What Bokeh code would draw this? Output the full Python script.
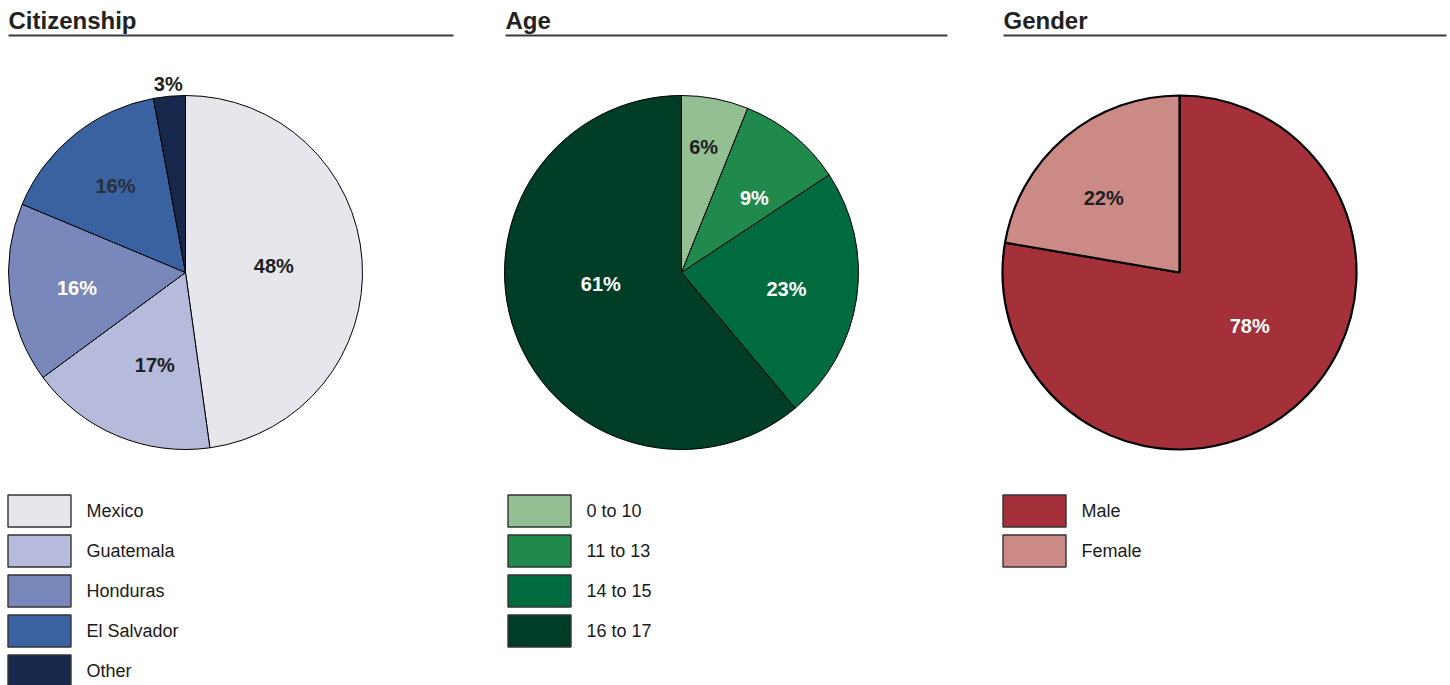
import numpy as np
from bokeh.plotting import figure
from bokeh.models import Range1d, ColumnDataSource
from bokeh.core.properties import value
from bokeh.embed import file_html
from bokeh.resources import INLINE

# ---------------- data ----------------
cit_categories = ["Mexico", "Guatemala", "Honduras", "El Salvador", "Other"]
cit_values = [47.8, 17.1, 16.4, 15.8, 2.9]
cit_labels = ["48%", "17%", "16%", "16%", "3%"]

age_categories = ["0 to 10", "11 to 13", "14 to 15", "16 to 17"]
age_values = [6.1, 9.6, 23.2, 61.1]
age_labels = ["6%", "9%", "23%", "61%"]

gen_categories = ["Male", "Female"]
gen_values = [77.7, 22.3]
gen_labels = ["78%", "22%"]

titles = ["Citizenship", "Age", "Gender"]

# ---------------- styles ----------------
cit_colors = ["#E6E7EC", "#B6BADB", "#7888BA", "#3A62A0", "#18284C"]
cit_text_colors = ["#1e1e1e", "#1e1e1e", "#ffffff", "#2a2f3a", "#1e1e1e"]
cit_label_r = [0.50, 0.55, 0.62, 0.63, 1.07]
cit_label_shift = [0, -4.5, -1.5, 0, 0]

age_colors = ["#93BF93", "#1F8A4C", "#006B3F", "#003D26"]
age_text_colors = ["#1e1e1e", "#ffffff", "#ffffff", "#ffffff"]
age_label_r = [0.72, 0.59, 0.60, 0.46]
age_label_shift = [-1, 5, 0.7, 12]

gen_colors = ["#A4303A", "#CC8A86"]
gen_text_colors = ["#ffffff", "#1e1e1e"]
gen_label_r = [0.50, 0.60]
gen_label_shift = [-12.4, -5.4]

FONT = "Liberation Sans"
W, H = 1450, 685
R = 177

p = figure(width=W, height=H, x_range=Range1d(0, W), y_range=Range1d(0, H),
           output_backend="svg", toolbar_location=None, min_border=0,
           x_axis_type=None, y_axis_type=None)
p.grid.visible = False
p.outline_line_color = None
p.background_fill_color = "white"
p.border_fill_color = "white"

panel_x0 = [8, 505, 1003]
panel_x1 = [453, 947, 1446]
pie_cx = [185, 681, 1179]
leg_cx = [39, 539, 1034]
leg_tx = [86, 586, 1081]
pie_cy = 413

panels = [
    (cit_categories, cit_values, cit_labels, cit_colors, cit_text_colors, cit_label_r, cit_label_shift, 1),
    (age_categories, age_values, age_labels, age_colors, age_text_colors, age_label_r, age_label_shift, 1),
    (gen_categories, gen_values, gen_labels, gen_colors, gen_text_colors, gen_label_r, gen_label_shift, 2.2),
]

for i, (cats, vals, labs, cols, tcols, lr, lsh, lw) in enumerate(panels):
    x0 = panel_x0[i]
    # title + rule
    p.text(x=[x0], y=[665], text=[titles[i]], text_font=value(FONT),
           text_font_size="24px", text_font_style="bold", text_color="#222222",
           text_align="left", text_baseline="alphabetic")
    p.segment(x0=[x0], y0=[650], x1=[panel_x1[i]], y1=[650],
              line_color="#3a3a3a", line_width=1.8)

    # pie
    cx = pie_cx[i]
    v = np.array(vals, dtype=float)
    frac = v / v.sum()
    cum = np.concatenate([[0], np.cumsum(frac)])
    start = np.pi / 2 - cum[:-1] * 2 * np.pi
    end = np.pi / 2 - cum[1:] * 2 * np.pi
    src = ColumnDataSource(dict(start=start, end=end, color=cols))
    p.wedge(x=cx, y=pie_cy, radius=R, radius_units="screen",
            start_angle="start", end_angle="end", direction="clock",
            fill_color="color", line_color="black", line_width=lw, source=src)

    # labels
    mid = (cum[:-1] + cum[1:]) / 2 * 2 * np.pi + np.radians(lsh)
    lx = cx + np.array(lr) * R * np.sin(mid)
    ly = pie_cy + np.array(lr) * R * np.cos(mid)
    p.text(x=lx, y=ly, text=labs, text_color=tcols, text_font=value(FONT),
           text_font_size="20px", text_font_style="bold",
           text_align="center", text_baseline="middle")

    # legend
    n = len(cats)
    ly_leg = 174.5 - 40 * np.arange(n)
    p.rect(x=[leg_cx[i]] * n, y=ly_leg, width=63, height=32,
           fill_color=cols, line_color="#333333", line_width=1.4)
    p.text(x=[leg_tx[i]] * n, y=ly_leg, text=cats, text_color="#1a1a1a",
           text_font=value(FONT), text_font_size="18px",
           text_align="left", text_baseline="middle")

open("out.html", "w").write(file_html(p, INLINE))
